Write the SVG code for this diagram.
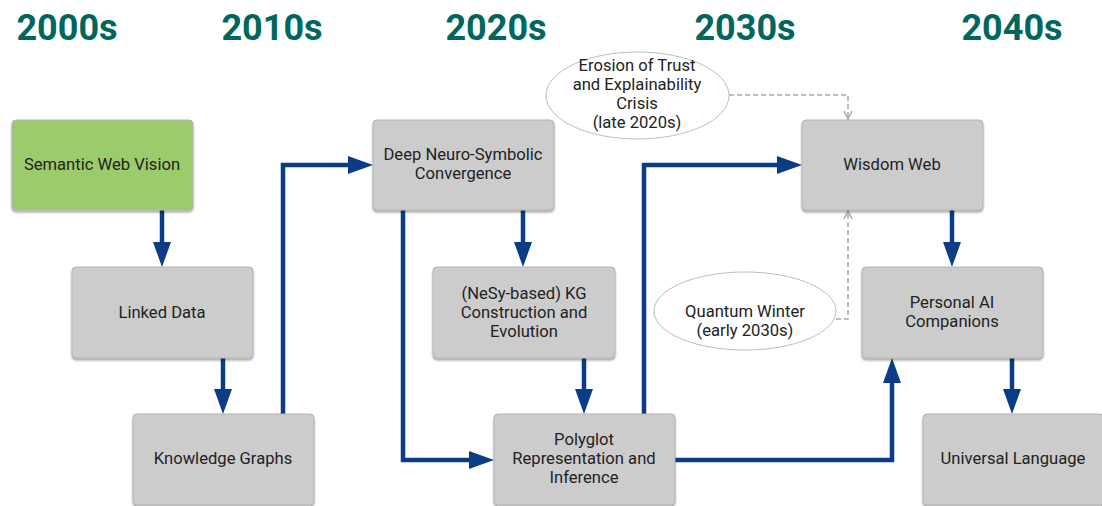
<svg xmlns="http://www.w3.org/2000/svg" width="1102" height="506" viewBox="0 0 1102 506">
<defs>
<filter id="sh" x="-10%" y="-10%" width="120%" height="130%">
<feDropShadow dx="0" dy="2" stdDeviation="1.2" flood-color="#000" flood-opacity="0.35"/>
</filter>
<marker id="da" viewBox="0 0 10 10" refX="9" refY="5" markerWidth="10" markerHeight="10" orient="auto" markerUnits="userSpaceOnUse">
<path d="M1,1 L9,5 L1,9" fill="none" stroke="#aaaaaa" stroke-width="1.5"/>
</marker>
</defs>
<style>
.hd{font-family:Roboto,"Liberation Sans",sans-serif;font-weight:bold;font-size:36px;fill:#00665e;text-anchor:middle}
.bx{fill:#cccccc;stroke:#b3b3b3;stroke-width:1;filter:url(#sh)}
.gr{fill:#9bcb6a}
.t{font-family:Roboto,"Liberation Sans",sans-serif;font-size:16.6px;fill:#222;text-anchor:middle}
.el{fill:#fff;stroke:#bdbdbd;stroke-width:1}
.c{fill:none;stroke:#0a3d85;stroke-width:4.5}
.d{fill:none;stroke:#aaaaaa;stroke-width:1.5;stroke-dasharray:5,3}
.hp{fill:#0a3d85}
</style>
<g id="headings">
<text class="hd" x="67" y="40">2000s</text>
<text class="hd" x="272" y="40">2010s</text>
<text class="hd" x="496" y="40">2020s</text>
<text class="hd" x="745" y="40">2030s</text>
<text class="hd" x="1012" y="40">2040s</text>
</g>
<g id="connectors">
<path class="c" d="M162,210 V244"/><path class="hp" d="M153,242 L171,242 L162,267 Z"/>
<path class="c" d="M223,358 V391"/><path class="hp" d="M214,389 L232,389 L223,414 Z"/>
<path class="c" d="M283,414 V165 H350"/><path class="hp" d="M348,156 L348,174 L373,165 Z"/>
<path class="c" d="M523,210 V244"/><path class="hp" d="M514,242 L532,242 L523,267 Z"/>
<path class="c" d="M403,210 V460 H471"/><path class="hp" d="M469,451 L469,469 L494,460 Z"/>
<path class="c" d="M584,358 V391"/><path class="hp" d="M575,389 L593,389 L584,414 Z"/>
<path class="c" d="M644,414 V165 H779"/><path class="hp" d="M777,156 L777,174 L802,165 Z"/>
<path class="c" d="M675,460 H892 V381"/><path class="hp" d="M883,383 L901,383 L892,358 Z"/>
<path class="c" d="M952,210 V244"/><path class="hp" d="M943,242 L961,242 L952,267 Z"/>
<path class="c" d="M1012,358 V391"/><path class="hp" d="M1003,389 L1021,389 L1012,414 Z"/>
<path class="d" d="M729,95 H848 V119" marker-end="url(#da)"/>
<path class="d" d="M836,319 H848 V211" marker-end="url(#da)"/>
</g>
<g id="n-semantic"><rect class="bx gr" x="12" y="120" width="181" height="90" rx="4"/><text class="t" x="102" y="170">Semantic Web Vision</text></g>
<g id="n-linked"><rect class="bx" x="72" y="267" width="181" height="91" rx="4"/><text class="t" x="162" y="318">Linked Data</text></g>
<g id="n-kg"><rect class="bx" x="133" y="414" width="181" height="91" rx="4"/><text class="t" x="223" y="464">Knowledge Graphs</text></g>
<g id="n-deep"><rect class="bx" x="373" y="120" width="181" height="90" rx="4"/><text class="t" x="463" y="160">Deep Neuro-Symbolic</text><text class="t" x="463" y="179">Convergence</text></g>
<g id="n-nesy"><rect class="bx" x="433" y="267" width="182" height="91" rx="4"/><text class="t" x="524" y="299">(NeSy-based) KG</text><text class="t" x="524" y="318">Construction and</text><text class="t" x="524" y="337">Evolution</text></g>
<g id="n-polyglot"><rect class="bx" x="494" y="414" width="181" height="91" rx="4"/><text class="t" x="584" y="445">Polyglot</text><text class="t" x="584" y="464">Representation and</text><text class="t" x="584" y="483">Inference</text></g>
<g id="n-wisdom"><rect class="bx" x="802" y="120" width="181" height="90" rx="4"/><text class="t" x="892" y="170">Wisdom Web</text></g>
<g id="n-personal"><rect class="bx" x="862" y="267" width="181" height="91" rx="4"/><text class="t" x="952" y="308">Personal AI</text><text class="t" x="952" y="327">Companions</text></g>
<g id="n-universal"><rect class="bx" x="923" y="414" width="181" height="91" rx="4"/><text class="t" x="1013" y="464">Universal Language</text></g>
<g id="n-erosion"><ellipse class="el" cx="637.5" cy="95.5" rx="91.5" ry="43.5"/><text class="t" x="637" y="71">Erosion of Trust</text><text class="t" x="637" y="90">and Explainability</text><text class="t" x="637" y="109">Crisis</text><text class="t" x="637" y="128">(late 2020s)</text></g>
<g id="n-quantum"><ellipse class="el" cx="745" cy="311" rx="91" ry="39"/><text class="t" x="745" y="317">Quantum Winter</text><text class="t" x="745" y="336">(early 2030s)</text></g>
</svg>
